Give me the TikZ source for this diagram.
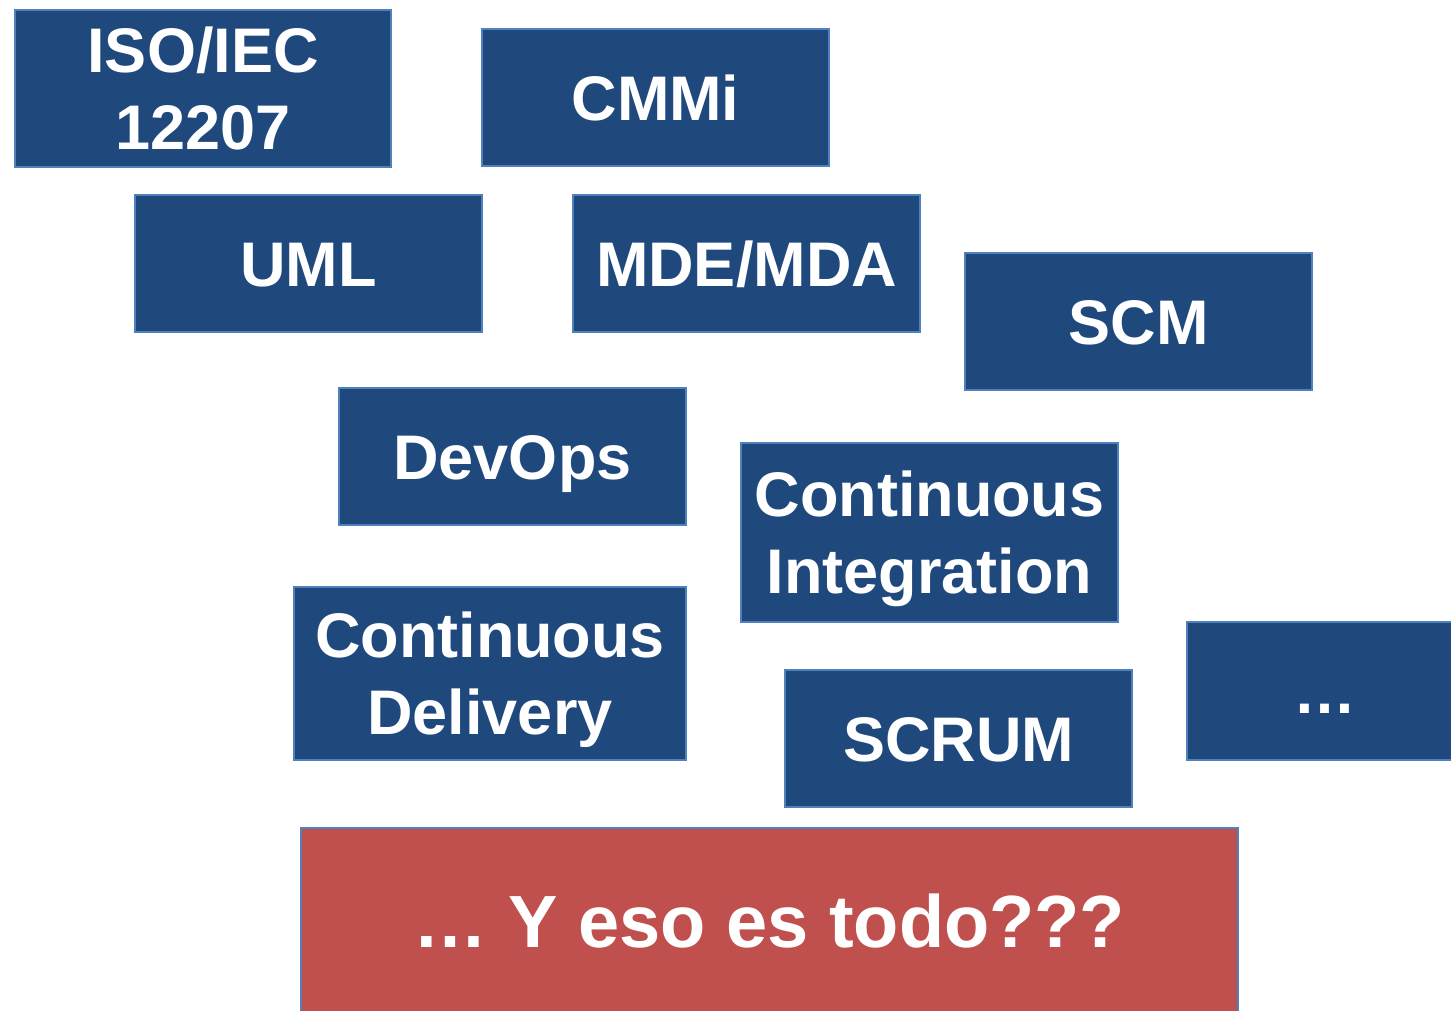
\documentclass[tikz,border=0pt]{standalone}
\usepackage{fontspec}
\setmainfont{Liberation Sans}
\definecolor{boxblue}{HTML}{1F497D}
\definecolor{edgeblue}{HTML}{4F81BD}
\definecolor{boxred}{HTML}{C0504D}
\tikzset{
  topic/.style={draw=edgeblue, fill=boxblue, line width=1.5pt, text=white,
    font=\bfseries\fontsize{63}{77}\selectfont, align=center, inner sep=0pt,
    text height=45pt, text depth=0pt},
  twoline/.style={topic, text height=122pt},
  question/.style={topic, fill=boxred, font=\bfseries\fontsize{74}{88}\selectfont,
    text height=53pt}
}

\begin{document}
\begin{tikzpicture}[x=1pt, y=-1pt]
  \useasboundingbox (0,0) rectangle (1451,1010);
  \clip (0,0) rectangle (1451,1010);
  % norms and models
  \node[twoline, minimum width=376pt, minimum height=157pt] (iso) at (203,88.5) {ISO/IEC\\12207};
  \node[topic, minimum width=347pt, minimum height=137pt] (cmmi) at (655.5,97.5) {CMMi};
  \node[topic, minimum width=347pt, minimum height=137pt] (uml) at (308.5,263.5) {UML};
  \node[topic, minimum width=347pt, minimum height=137pt] (mde) at (746.5,263.5) {MDE/MDA};
  \node[topic, minimum width=347pt, minimum height=137pt] (scm) at (1138.5,321.5) {SCM};
  % practices
  \node[topic, minimum width=347pt, minimum height=137pt] (devops) at (512.5,456.5) {DevOps};
  \node[twoline, minimum width=377pt, minimum height=179pt] (ci) at (929.5,532.5) {Continuous\\Integration};
  \node[twoline, minimum width=392pt, minimum height=173pt] (cd) at (490,673.5) {Continuous\\Delivery};
  \node[topic, minimum width=347pt, minimum height=137pt] (scrum) at (958.5,738.5) {SCRUM};
  \node[topic, minimum width=276pt, minimum height=138pt] (more) at (1325,691) {\dots};
  % question
  \node[question, minimum width=937pt, minimum height=186pt] (todo) at (769.5,921) {\dots\ Y eso es todo???};
\end{tikzpicture}
\end{document}
